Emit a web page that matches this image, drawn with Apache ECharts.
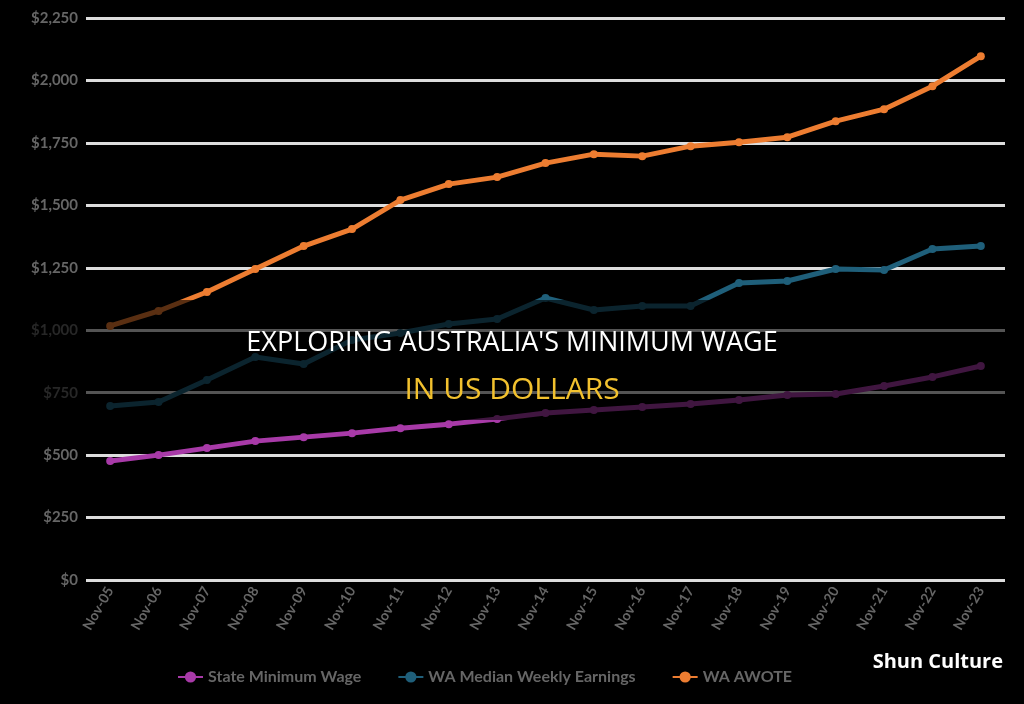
<!DOCTYPE html>
<html><head><meta charset="utf-8">
<script src="https://cdn.jsdelivr.net/npm/echarts@6/dist/echarts.min.js"></script>
<style>html,body{margin:0;background:#000}#c{width:1024px;height:704px}</style></head>
<body><div id="c"></div>
<script>
const categories=['Nov-05','Nov-06','Nov-07','Nov-08','Nov-09','Nov-10','Nov-11','Nov-12','Nov-13','Nov-14','Nov-15','Nov-16','Nov-17','Nov-18','Nov-19','Nov-20','Nov-21','Nov-22','Nov-23'];
const stateMin=[476,500,528,556,572,588,608,624,645,669,681,693,705,721,741,745,777,813,857];
const waMedian=[697,713,801,893,865,961,989,1025,1045,1129,1081,1097,1097,1189,1197,1245,1241,1325,1337];
const waAwote=[1017,1077,1153,1245,1337,1405,1521,1585,1613,1669,1705,1697,1737,1753,1773,1837,1885,1977,2097];
const names=['State Minimum Wage','WA Median Weekly Earnings','WA AWOTE'];
const colors=['#a83aa8','#1f5f7a','#ed7d31'];
const chart=echarts.init(document.getElementById('c'));
const mk=(n,d,c)=>({name:n,type:'line',data:d,symbol:'circle',symbolSize:8,lineStyle:{width:5,color:c},itemStyle:{color:c}});
chart.setOption({
 backgroundColor:'#000',animation:false,
 grid:{left:86,right:19,top:18,bottom:124},
 legend:{bottom:14,left:172,itemGap:36,textStyle:{color:'#666',fontWeight:'bold',fontSize:16,fontFamily:'Lato'},data:names},
 xAxis:{type:'category',data:categories,boundaryGap:true,axisLine:{show:false},axisTick:{show:false},
  axisLabel:{rotate:60,color:'#666',fontWeight:'bold',fontSize:14,margin:8,interval:0,fontFamily:'Lato'}},
 yAxis:{type:'value',min:0,max:2250,interval:250,axisLabel:{color:'#666',fontWeight:'bold',fontSize:15,fontFamily:'Lato',
  formatter:v=>'$'+v.toLocaleString('en-US')},splitLine:{lineStyle:{color:'#ddd',width:3}}},
 series:[mk(names[0],stateMin,colors[0]),mk(names[1],waMedian,colors[1]),mk(names[2],waAwote,colors[2])],
 graphic:[
  {type:'rect',shape:{x:0,y:300,width:1024,height:120},style:{fill:'rgba(0,0,0,0.62)'},z:100},
  {type:'text',x:512,y:343,style:{text:"EXPLORING AUSTRALIA'S MINIMUM WAGE",fill:'#fff',font:'500 27px "Open Sans"',align:'center',verticalAlign:'middle'},z:101},
  {type:'text',x:512,y:390,style:{text:'IN US DOLLARS',fill:'#f2c12e',font:'500 30px "Open Sans"',align:'center',verticalAlign:'middle'},z:101},
  {type:'text',x:1003,y:662,style:{text:'Shun Culture',fill:'#fff',font:'bold 20px "Open Sans"',align:'right',verticalAlign:'middle'},z:101}
 ]
});
</script></body></html>
